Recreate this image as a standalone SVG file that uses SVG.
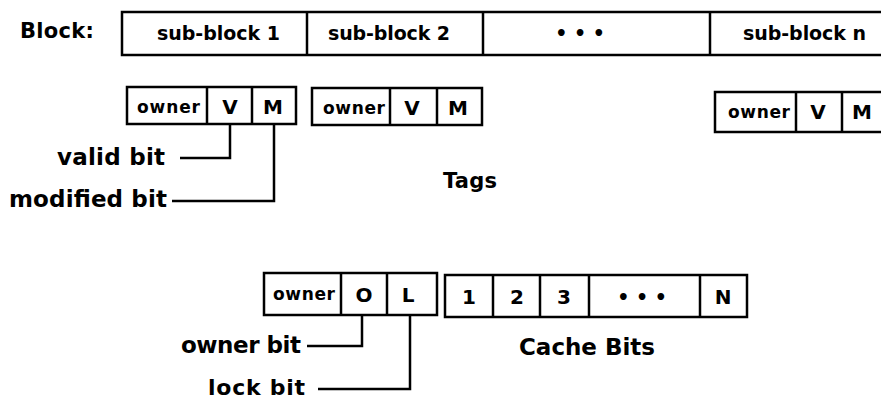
<svg xmlns="http://www.w3.org/2000/svg" width="881" height="401" viewBox="0 0 881 401">
<style>
  .box { fill: #fff; stroke: #000; stroke-width: 2.5; }
  .div { stroke: #000; stroke-width: 2.5; fill: none; }
  .conn { stroke: #000; stroke-width: 2.5; fill: none; }
  text { font-family: "DejaVu Sans", "Liberation Sans", sans-serif; font-weight: bold; fill: #000; }
  .lbl { font-size: 23px; }
  .big { font-size: 19px; }
  .sm { font-size: 17px; }
  .cell { font-size: 20px; }
  .mid { text-anchor: middle; }
</style>
<rect width="881" height="401" fill="#fff"/>

<g id="block-label"><text x="20" y="38" textLength="74" lengthAdjust="spacing" style="font-size:21px">Block:</text></g>

<g id="block">
  <rect class="box" x="122" y="12" width="770" height="43"/>
  <line class="div" x1="307" y1="12" x2="307" y2="55"/>
  <line class="div" x1="483" y1="12" x2="483" y2="55"/>
  <line class="div" x1="710" y1="12" x2="710" y2="55"/>
  <text class="big" x="157" y="40" textLength="123" lengthAdjust="spacing">sub-block 1</text>
  <text class="big" x="328" y="40" textLength="122" lengthAdjust="spacing">sub-block 2</text>
  <text class="big" x="580" y="40" text-anchor="middle">• • •</text>
  <text class="big" x="743" y="40" textLength="123" lengthAdjust="spacing">sub-block n</text>
</g>

<g id="tag1">
  <rect class="box" x="127" y="87" width="169" height="37"/>
  <line class="div" x1="207" y1="87" x2="207" y2="124"/>
  <line class="div" x1="252" y1="87" x2="252" y2="124"/>
  <text class="sm" x="137" y="113" textLength="63" lengthAdjust="spacing">owner</text>
  <text class="cell mid" x="230" y="114">V</text>
  <text class="cell mid" x="273" y="114">M</text>
</g>

<g id="tag2">
  <rect class="box" x="312" y="88" width="170" height="37"/>
  <line class="div" x1="390" y1="88" x2="390" y2="125"/>
  <line class="div" x1="437" y1="88" x2="437" y2="125"/>
  <text class="sm" x="323" y="114" textLength="62" lengthAdjust="spacing">owner</text>
  <text class="cell mid" x="412" y="115">V</text>
  <text class="cell mid" x="458" y="115">M</text>
</g>

<g id="tag3">
  <rect class="box" x="715" y="92" width="180" height="40"/>
  <line class="div" x1="796" y1="92" x2="796" y2="132"/>
  <line class="div" x1="842" y1="92" x2="842" y2="132"/>
  <text class="sm" x="728" y="118" textLength="62" lengthAdjust="spacing">owner</text>
  <text class="cell mid" x="818" y="119">V</text>
  <text class="cell mid" x="862" y="119">M</text>
</g>

<g id="valid-bit"><text class="lbl" x="57" y="165" textLength="108" lengthAdjust="spacing">valid bit</text></g>
<g id="modified-bit"><text class="lbl" x="9" y="207" textLength="158" lengthAdjust="spacing">modified bit</text></g>
<g id="tags-label"><text x="443" y="188" textLength="54" lengthAdjust="spacing" style="font-size:21px">Tags</text></g>

<g id="owner-tag">
  <rect class="box" x="264" y="273" width="173" height="42"/>
  <line class="div" x1="341" y1="273" x2="341" y2="315"/>
  <line class="div" x1="387" y1="273" x2="387" y2="315"/>
  <text class="sm" x="273" y="300" textLength="62" lengthAdjust="spacing">owner</text>
  <text class="cell mid" x="364" y="302">O</text>
  <text class="cell mid" x="408" y="302">L</text>
</g>

<g id="cache-bits">
  <rect class="box" x="445" y="275" width="302" height="42"/>
  <line class="div" x1="493" y1="275" x2="493" y2="317"/>
  <line class="div" x1="540" y1="275" x2="540" y2="317"/>
  <line class="div" x1="589" y1="275" x2="589" y2="317"/>
  <line class="div" x1="700" y1="275" x2="700" y2="317"/>
  <text class="cell mid" x="469" y="304">1</text>
  <text class="cell mid" x="517" y="304">2</text>
  <text class="cell mid" x="564" y="304">3</text>
  <text class="big mid" x="642" y="304">• • •</text>
  <text class="cell mid" x="723" y="304">N</text>
</g>

<g id="owner-bit"><text class="lbl" x="181" y="353" textLength="120" lengthAdjust="spacing">owner bit</text></g>
<g id="lock-bit"><text class="lbl" x="208" y="395" textLength="97" lengthAdjust="spacing" style="font-size:22px">lock bit</text></g>
<g id="cache-bits-label"><text class="lbl" x="519" y="355" textLength="136" lengthAdjust="spacing">Cache Bits</text></g>

<g id="connectors">
  <polyline class="conn" points="230,124 230,158 180,158"/>
  <polyline class="conn" points="274,124 274,201 172,201"/>
  <polyline class="conn" points="362,315 362,346 307,346"/>
  <polyline class="conn" points="410,315 410,389 318,389"/>
</g>
</svg>
